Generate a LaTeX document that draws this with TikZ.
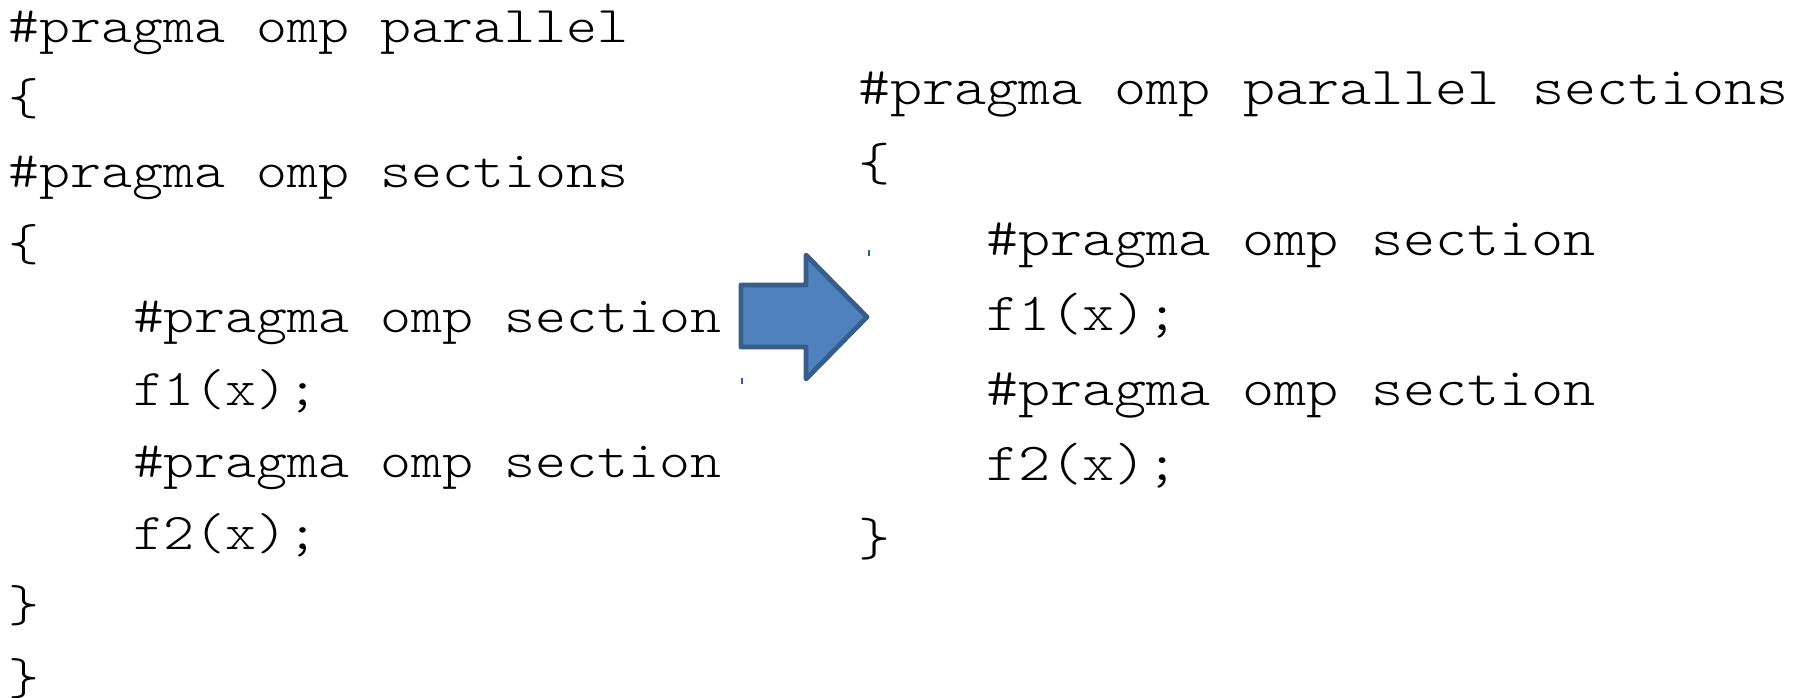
\documentclass[tikz,border=0pt]{standalone}
\usepackage{fontspec}
\newfontfamily\codefont{lmmonolt10-regular}[Extension=.otf, FakeStretch=1.143, WordSpace={1,0,0}]
\definecolor{arrowfill}{HTML}{4F81BD}
\definecolor{arrowline}{HTML}{385D8A}
\definecolor{handle}{HTML}{2E5C9A}
\tikzset{
  codeL/.style={anchor=base west, inner sep=0pt, outer sep=0pt,
    font=\codefont\fontsize{51.6}{72}\selectfont, text=black},
  codeR/.style={anchor=base west, inner sep=0pt, outer sep=0pt,
    font=\codefont\fontsize{53.5}{75}\selectfont, text=black},
  blockarrow/.style={fill=arrowfill, draw=arrowline, line width=4.8pt, line join=round},
  handlemark/.style={draw=handle, line width=1.2pt}
}
\begin{document}
\begin{tikzpicture}[x=1pt, y=-1pt]
\useasboundingbox (0,0) rectangle (1797,698);

% nested form: parallel region enclosing a sections construct
\node[codeL] (l1)  at (9,43)   {\#pragma omp parallel};
\node[codeL] (l2)  at (9,115)  {\{};
\node[codeL] (l3)  at (9,188)  {\#pragma omp sections};
\node[codeL] (l4)  at (9,260)  {\{};
\node[codeL] (l5)  at (133,332) {\#pragma omp section};
\node[codeL] (l6)  at (133,405) {f1(x);};
\node[codeL] (l7)  at (133,477) {\#pragma omp section};
\node[codeL] (l8)  at (133,549) {f2(x);};
\node[codeL] (l9)  at (9,621)  {\}};
\node[codeL] (l10) at (9,694)  {\}};

% combined form
\node[codeR] (r1) at (858,105) {\#pragma omp parallel sections};
\node[codeR] (r2) at (858,180) {\{};
\node[codeR] (r3) at (986,255) {\#pragma omp section};
\node[codeR] (r4) at (986,330) {f1(x);};
\node[codeR] (r5) at (986,405) {\#pragma omp section};
\node[codeR] (r6) at (986,480) {f2(x);};
\node[codeR] (r7) at (858,555) {\}};

% block arrow between the two forms
\draw[blockarrow] (741,285) -- (806,285) -- (806,255) -- (867,317)
  -- (806,379) -- (806,347) -- (741,347) -- cycle;
\draw[handlemark] (869,250) -- (869,256);
\draw[handlemark] (742,378) -- (742,384);
\end{tikzpicture}
\end{document}
